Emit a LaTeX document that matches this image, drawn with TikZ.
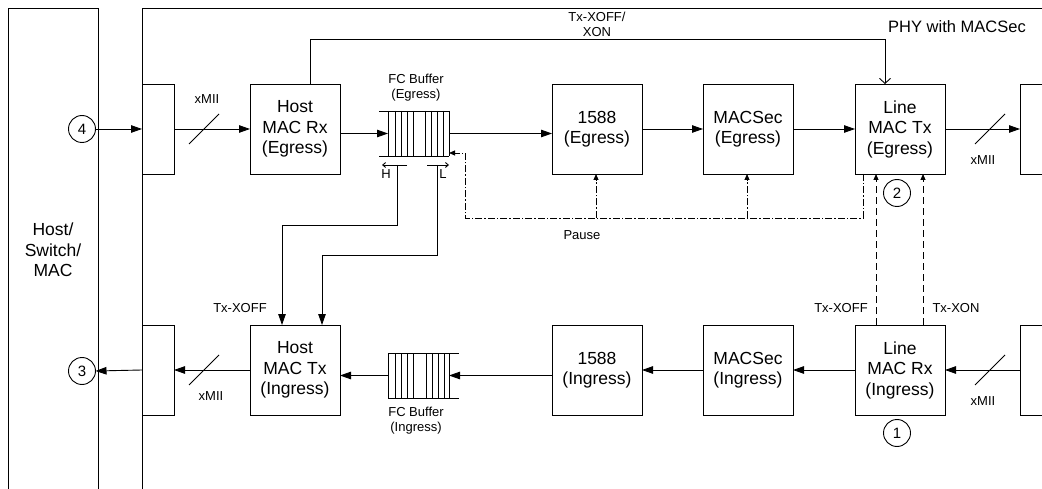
\documentclass[tikz,border=0pt]{standalone}
\usepackage{fontspec}
\setmainfont{Liberation Sans}
\usetikzlibrary{arrows.meta,calc}
\begin{document}
\begin{tikzpicture}[x=1pt,y=-1pt,
  every node/.style={inner sep=0pt, outer sep=0pt, font=\fontsize{17.5}{20.5}\selectfont, align=center},
  blk/.style={draw, line width=0.9pt, minimum width=90pt, minimum height=90pt},
  ifc/.style={draw, line width=0.9pt, minimum width=32pt, minimum height=90pt},
  small/.style={font=\fontsize{13}{15}\selectfont},
  num/.style={draw, circle, minimum size=27pt, line width=0.9pt, font=\fontsize{15}{17}\selectfont},
  ln/.style={line width=0.9pt},
  arr/.style={ln, -{Triangle[length=11pt,width=7.5pt]}},
  sarr/.style={-{Triangle[length=6pt,width=5pt]}},
  barb/.style={-{Straight Barb[length=3pt,width=5pt]}},
  dd/.style={ln, dash pattern=on 7pt off 2pt on 1.5pt off 2pt},
  dsh/.style={ln, dash pattern=on 7pt off 4pt},
  buf/.style={line width=0.8pt}
]
\useasboundingbox (0,0) rectangle (1042,489);
\clip (0,0) rectangle (1042,489);

% containers
\node[blk, minimum height=484pt] (host) at (53,250) {Host/\\Switch/\\MAC};
\draw[ln] (142,520) |- (1100,8);
\node[font=\fontsize{16.5}{19}\selectfont] (phy) at (957,27) {PHY with MACSec};

% interface boxes
\node[ifc] (ifT) at (158,129) {};
\node[ifc] (ifB) at (158,370) {};
\node[blk] (rT) at (1065,129) {};
\node[blk] (rB) at (1065,370) {};

% egress row
\node[blk] (hmrx) at (295,129) {Host\\MAC Rx\\(Egress)};
\node[blk] (e1588) at (597,129) {1588\\(Egress)};
\node[blk] (emacsec) at (748,129) {MACSec\\(Egress)};
\node[blk] (lmtx) at (900,129) {Line\\MAC Tx\\(Egress)};

% ingress row
\node[blk] (hmtx) at (295,370) {Host\\MAC Tx\\(Ingress)};
\node[blk] (i1588) at (597,370) {1588\\(Ingress)};
\node[blk] (imacsec) at (748,370) {MACSec\\(Ingress)};
\node[blk] (lmrx) at (900,370) {Line\\MAC Rx\\(Ingress)};

% circles
\node[num] (c4) at (82,129) {4};
\node[num] (c3) at (82,371) {3};
\node[num] (c2) at (897,193) {2};
\node[num] (c1) at (897,433) {1};

% FC buffer egress
\node[minimum width=61pt, minimum height=45pt] (fbe) at (418.5,133.5) {};
\draw[buf] (379,111) -- (449,111) (379,156) -- (449,156);
\foreach \x in {388,395,401,407,413,425,431,437,443,449} \draw[buf] (\x,111) -- (\x,156);
\node[small] (fbel) at (416,87.5) {FC Buffer\\(Egress)};

% FC buffer ingress
\node[minimum width=61pt, minimum height=45pt] (fbi) at (418.5,375.5) {};
\draw[buf] (388,353) -- (459,353) (388,398) -- (459,398);
\foreach \x in {388,395,401,407,413,426,432,438,444,449} \draw[buf] (\x,353) -- (\x,398);
\node[small] (fbil) at (416,420.5) {FC Buffer\\(Ingress)};

% egress connectors
\draw[arr] (c4.east) -- (ifT.west);
\draw[arr] (ifT.east) -- (hmrx.west);
\draw[ln] ($(ifT.east)!0.395!(hmrx.west)$) +(-15,15) -- +(15,-15);
\node[small] (xm1) at (207,99) {xMII};
\draw[arr] (fbe.west -| hmrx.east) -- (fbe.west);
\draw[arr] (fbe.east) -- (fbe.east -| e1588.west);
\draw[arr] (e1588.east) -- (emacsec.west);
\draw[arr] (emacsec.east) -- (lmtx.west);
\draw[arr] (lmtx.east) -- (rT.west);
\draw[ln] ($(lmtx.east)!0.6!(rT.west)$) +(-15,15) -- +(15,-15);
\node[small] (xm2) at (983,160) {xMII};

% top feedback
\coordinate (topy) at (0,39);
\draw[ln, -{Straight Barb[length=5pt,width=11pt]}] ([xshift=15pt]hmrx.north) |- ([xshift=-15pt]lmtx.north |- topy) -- ([xshift=-15pt]lmtx.north);
\node[small] (txoo) at (597,24.5) {Tx-XOFF/\\XON};

% pause
\coordinate (pty) at (0,218);
\coordinate (pcorner) at (465,218);
\coordinate (piny) at (0,153);
\draw[dd, sarr] ([xshift=-37pt]lmtx.south) |- (pcorner) |- (fbe.east |- piny);
\draw[dd, sarr] ([xshift=-1pt]e1588.south |- pty) -- ([xshift=-1pt]e1588.south);
\draw[dd, sarr] ([xshift=-1pt]emacsec.south |- pty) -- ([xshift=-1pt]emacsec.south);
\node[small] (pause) at (582,235) {Pause};

% H / L thresholds
\coordinate (hs) at (407,165);
\coordinate (he) at (382,165);
\coordinate (ht) at (397,165);
\coordinate (hy) at (0,225);
\draw[ln, barb] (hs) -- (he);
\node[small] (hlab) at (386,174) {H};
\draw[arr] (ht) -- (ht |- hy) -| ([xshift=-13pt]hmtx.north);
\coordinate (ls) at (427,165);
\coordinate (le) at (449,165);
\coordinate (lt) at (437,165);
\coordinate (ly) at (0,255);
\draw[ln, barb] (ls) -- (le);
\node[small] (llab) at (443,174) {L};
\draw[arr] (lt) -- (lt |- ly) -| ([xshift=27pt]hmtx.north);
\node[small] (txoff1) at (240,308) {Tx-XOFF};

% ingress connectors
\draw[arr] (ifB.west) -- (c3.east);
\draw[arr] (hmtx.west) -- (ifB.east);
\draw[ln] ($(ifB.east)!0.395!(hmtx.west)$) +(-15,15) -- +(15,-15);
\node[small] (xm3) at (211,396) {xMII};
\draw[arr] (fbi.west) -- (fbi.west -| hmtx.east);
\draw[arr] (fbi.east -| i1588.west) -- (fbi.east);
\draw[arr] (imacsec.west) -- (i1588.east);
\draw[arr] (lmrx.west) -- (imacsec.east);
\draw[arr] (rB.west) -- (lmrx.east);
\draw[ln] ($(lmrx.east)!0.6!(rB.west)$) +(-15,15) -- +(15,-15);
\node[small] (xm4) at (983,401) {xMII};

% dashed XOFF / XON
\draw[dsh, sarr] ([xshift=-24pt]lmrx.north) -- ([xshift=-24pt]lmtx.south);
\draw[dsh, sarr] ([xshift=23pt]lmrx.north) -- ([xshift=23pt]lmtx.south);
\node[small] (txoff2) at (841,308) {Tx-XOFF};
\node[small] (txon) at (956,308) {Tx-XON};
\end{tikzpicture}
\end{document}
